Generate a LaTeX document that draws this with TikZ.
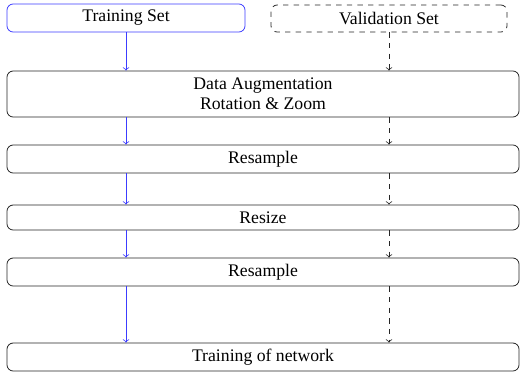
\documentclass[tikz,border=0pt]{standalone}
\usepackage{fontspec}
\setmainfont{Liberation Serif}
\usetikzlibrary{arrows}
\definecolor{flowblue}{RGB}{60,60,255}
\begin{document}
\begin{tikzpicture}[x=0.565pt,y=-0.565pt,
  stage/.style={draw=black!85, rounded corners=3.5pt, line width=0.45pt,
    inner sep=0pt, align=center, font=\fontsize{10}{11.5}\selectfont,
    minimum width={512*0.565pt}},
  trainbox/.style={stage, draw=flowblue, minimum width={238*0.565pt}, minimum height={28*0.565pt}},
  validbox/.style={stage, dashed, minimum width={236*0.565pt}, minimum height={27*0.565pt}},
  trainflow/.style={->, >=to, draw=flowblue, line width=0.45pt},
  validflow/.style={->, >=to, draw=black!85, dashed, line width=0.45pt}]
\useasboundingbox (0,0) rectangle (520,377);
\node[trainbox] (train) at (126,18) {Training Set};
\node[validbox] (valid) at (389,18.5) {Validation Set};
\node[stage, minimum height={46*0.565pt}] (aug) at (263,94) {Data Augmentation\\Rotation \& Zoom};
\node[stage, minimum height={28*0.565pt}] (rs1) at (263,159) {Resample};
\node[stage, minimum height={25*0.565pt}] (rsz) at (263,217.5) {Resize};
\node[stage, minimum height={28*0.565pt}] (rs2) at (263,272) {Resample};
\node[stage, minimum height={28*0.565pt}] (net) at (263,357) {Training of network};
\coordinate (tx) at (126,0);
\coordinate (vx) at (389,0);
% training path
\draw[trainflow] (train.south) -- (train.south |- aug.north);
\draw[trainflow] (aug.south -| tx) -- (rs1.north -| tx);
\draw[trainflow] (rs1.south -| tx) -- (rsz.north -| tx);
\draw[trainflow] (rsz.south -| tx) -- (rs2.north -| tx);
\draw[trainflow] (rs2.south -| tx) -- (net.north -| tx);
% validation path
\draw[validflow] (valid.south) -- (valid.south |- aug.north);
\draw[validflow] (aug.south -| vx) -- (rs1.north -| vx);
\draw[validflow] (rs1.south -| vx) -- (rsz.north -| vx);
\draw[validflow] (rsz.south -| vx) -- (rs2.north -| vx);
\draw[validflow] (rs2.south -| vx) -- (net.north -| vx);
\end{tikzpicture}
\end{document}
